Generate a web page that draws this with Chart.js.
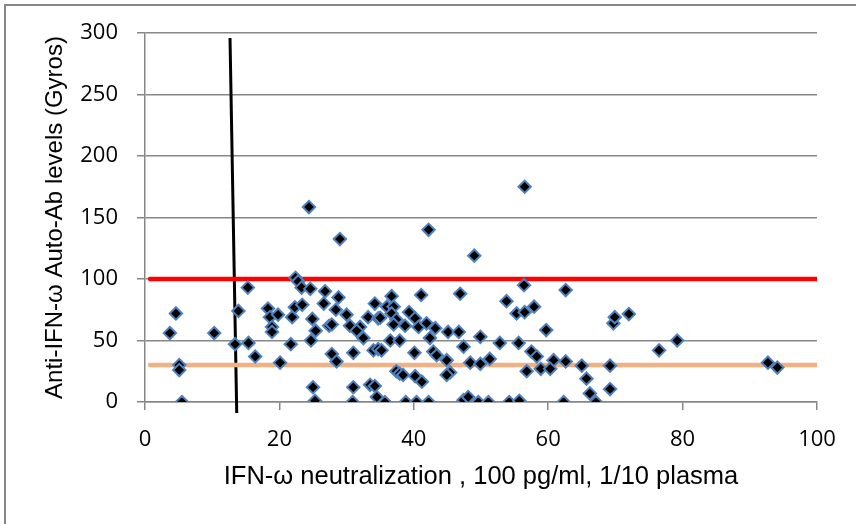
<!DOCTYPE html>
<html>
<head>
<meta charset="utf-8">
<script src="https://cdn.jsdelivr.net/npm/chart.js@4.4.1/dist/chart.umd.min.js"></script>
<style>
    html, body { margin: 0; padding: 0; background: #fff; }
    #wrap { position: relative; width: 856px; height: 524px; overflow: hidden; }
    #frame { position: absolute; left: 4px; top: 4px; width: 900px; height: 600px;
             border-left: 2px solid #878787; border-top: 2px solid #878787; }
</style>
</head>
<body>
<div id="wrap">
    <canvas id="scatterChart" width="856" height="524"></canvas>
    <div id="frame"></div>
</div>
<script>
// neutralization (%) per sample
const neutralization = [
    24.4, 29.0, 4.6, 3.7, 10.3, 5.1, 5.1, 5.5, 13.4, 13.9,
    15.3, 15.4, 16.4, 20.1, 18.3, 18.6, 18.9, 18.9, 19.8, 21.9,
    21.7, 22.4, 22.8, 23.3, 24.6, 22.3, 23.4, 24.9, 25.4, 24.7,
    26.8, 26.6, 28.8, 28.4, 30.0, 27.4, 27.8, 30.5, 32.0, 31.5,
    32.5, 33.2, 34.2, 34.7, 27.8, 28.5, 31.0, 34.0, 34.7, 25.0,
    25.3, 31.0, 30.9, 33.5, 34.2, 34.5, 42.2, 49.0, 56.4, 62.6,
    41.1, 46.9, 53.8, 57.9, 55.3, 56.5, 36.7, 36.0, 37.0, 36.7,
    35.0, 37.4, 37.0, 39.3, 40.2, 38.7, 40.7, 41.9, 43.2, 42.4,
    45.1, 46.7, 49.9, 47.4, 52.8, 55.6, 59.7, 69.7, 69.9, 36.5,
    37.9, 35.2, 40.1, 42.9, 43.4, 44.9, 45.4, 44.9, 48.4, 49.9,
    51.3, 57.5, 58.3, 56.8, 58.9, 60.8, 60.3, 62.6, 65.0, 65.7,
    69.2, 69.2, 66.2, 67.1, 62.3, 37.4, 37.9, 38.4, 40.2, 41.2,
    35.7, 38.8, 40.4, 42.2, 47.4, 48.1, 49.6, 51.1, 54.2, 55.7,
    72.0, 76.5, 79.2, 92.7, 94.1, 56.5
];
// anti-IFN-omega auto-Ab level (Gyros) per sample
const abLevels = [
    158.5, 132.5, 72, 56, 56, 30, 26, 0, 47, 74,
    93, 48, 37, 32, 76, 69, 61, 57, 71, 69,
    47, 101, 98, 93, 92, 77, 79, 67.5, 58, 50,
    90, 80, 85, 75, 71, 62, 63, 62, 61, 58,
    52, 69, 80, 68, 39, 33, 40, 42, 43, 12,
    1, 12, 0, 14, 13, 4, 140, 119, 95, 91,
    87, 88, 82, 77.5, 72, 73, 86, 77.5, 77.5, 72,
    68.5, 67, 63, 73, 68, 62, 61, 64, 60, 52,
    57, 57, 53, 45, 48, 48, 58.5, 64, 69, 50,
    50, 42, 40, 41, 38, 34, 24, 22, 32, 31,
    35, 41, 37, 25, 27, 34, 27, 33, 29.5, 19,
    29.5, 10.5, 7, 0, 0, 25, 23, 22, 21, 16.5,
    0, 0, 0, 0, 1.5, 4, 0, 0, 0, 1,
    71.5, 42, 50, 32, 28, 175
];

// reference lines
const upperCutoffX = [0.75, 100];
const upperCutoffY = [100, 100];
const lowerCutoffX = [0.75, 100];
const lowerCutoffY = [30, 30];
const neutCutoffX = [12.65, 13.65];
const neutCutoffY = [296, -9];

const xTicks = [0, 20, 40, 60, 80, 100];
const yTicks = [0, 50, 100, 150, 200, 250, 300];

const toPoints = (xs, ys) => xs.map((x, i) => ({ x: x, y: ys[i] }));

const gridGray = "#878787";
const tickFont = { family: "'Open Sans'", size: 22 };

new Chart(document.getElementById("scatterChart").getContext("2d"), {
    type: "scatter",
    data: {
        datasets: [
            {
                label: "Samples",
                data: toPoints(neutralization, abLevels),
                pointStyle: "rectRot",
                pointRadius: 6.2,
                pointBorderWidth: 2,
                backgroundColor: "#000000",
                borderColor: "#4F81BD"
            },
            {
                label: "Upper",
                type: "line",
                data: toPoints(upperCutoffX, upperCutoffY),
                borderColor: "#FF0000",
                borderWidth: 4.5,
                borderCapStyle: "round",
                pointRadius: 0
            },
            {
                label: "Lower",
                type: "line",
                data: toPoints(lowerCutoffX, lowerCutoffY),
                borderColor: "#F3B183",
                borderWidth: 4.5,
                borderCapStyle: "round",
                pointRadius: 0
            },
            {
                label: "Neutralization",
                type: "line",
                data: toPoints(neutCutoffX, neutCutoffY),
                borderColor: "#000000",
                borderWidth: 3,
                pointRadius: 0,
                clip: false
            }
        ]
    },
    options: {
        responsive: false,
        animation: false,
        layout: { padding: { top: 33, right: 39, left: 0, bottom: 0 } },
        plugins: {
            legend: { display: false },
            tooltip: { enabled: false }
        },
        scales: {
            x: {
                type: "linear",
                min: 0,
                max: 100,
                afterFit: s => { s.height = 122; },
                afterBuildTicks: s => { s.ticks = xTicks.map(v => ({ value: v })); },
                grid: { drawOnChartArea: false, drawTicks: true, tickLength: 8, color: gridGray, lineWidth: 1.5 },
                border: { color: gridGray, width: 1.5 },
                ticks: { font: tickFont, color: "#000", padding: 17, maxRotation: 0 },
                title: { display: true, text: "IFN-ω neutralization , 100 pg/ml, 1/10 plasma",
                         font: { family: "'Liberation Sans'", size: 25.5 }, color: "#000",
                         padding: { top: 0, bottom: 32 } }
            },
            y: {
                min: 0,
                max: 300,
                afterFit: s => { s.width = 145; },
                afterBuildTicks: s => { s.ticks = yTicks.map(v => ({ value: v })); },
                grid: { drawTicks: true, tickLength: 8, color: gridGray, lineWidth: 1.5 },
                border: { color: gridGray, width: 1.5 },
                ticks: { font: tickFont, color: "#000", padding: 19 },
                title: { display: true, text: "Anti-IFN-ω Auto-Ab levels (Gyros)",
                         font: { family: "'Liberation Sans'", size: 24 }, color: "#000",
                         padding: { top: 41, bottom: 0 } }
            }
        }
    }
});
</script>
</body>
</html>
